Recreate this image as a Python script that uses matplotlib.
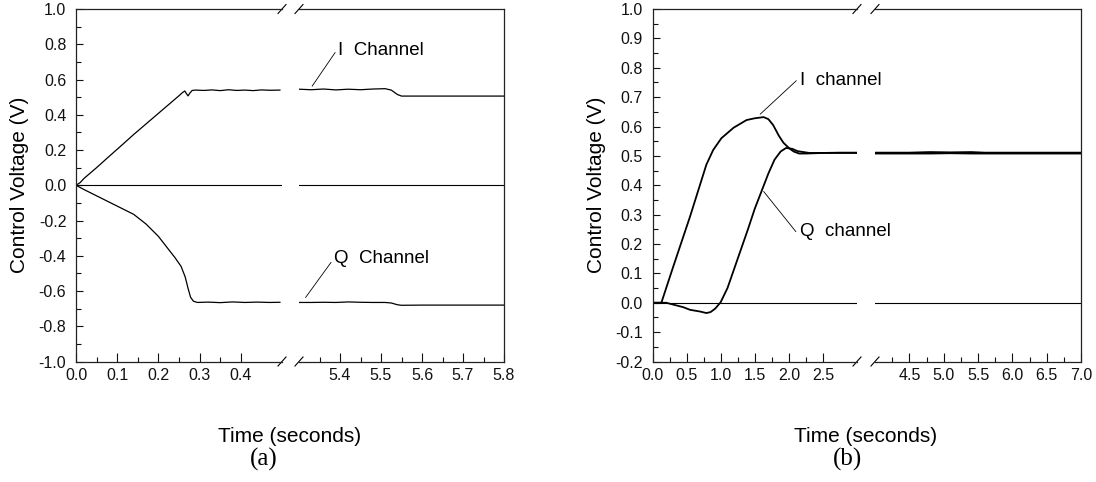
import numpy as np
import matplotlib
matplotlib.use("Agg")
import matplotlib.pyplot as plt

plt.rcParams['font.family'] = ['Liberation Sans', 'DejaVu Sans']

# ---- panel (a) data ----
t_a1 = [0, 0.01, 0.02, 0.05, 0.08, 0.11, 0.14, 0.17, 0.2, 0.23, 0.25, 0.258, 0.264,
        0.268, 0.272, 0.276, 0.282, 0.29, 0.31, 0.33, 0.35, 0.37, 0.39, 0.41,
        0.43, 0.45, 0.47, 0.495]
i_a1 = [0, 0.015, 0.04, 0.1, 0.163, 0.225, 0.288, 0.348, 0.408, 0.468, 0.508, 0.525,
        0.535, 0.52, 0.507, 0.522, 0.538, 0.54, 0.538, 0.541, 0.537, 0.542, 0.538,
        0.54, 0.537, 0.541, 0.539, 0.54]
tq_a1 = [0, 0.02, 0.05, 0.08, 0.11, 0.14, 0.17, 0.2, 0.22, 0.24, 0.255, 0.265,
         0.272, 0.278, 0.285, 0.295, 0.32, 0.35, 0.38, 0.41, 0.44, 0.47, 0.495]
q_a1 = [0, -0.025, -0.06, -0.095, -0.13, -0.165, -0.22, -0.29, -0.35, -0.41,
        -0.46, -0.52, -0.585, -0.635, -0.658, -0.665, -0.663, -0.666, -0.662,
        -0.665, -0.663, -0.665, -0.664]
t_a2 = [5.30, 5.33, 5.36, 5.39, 5.42, 5.45, 5.48, 5.51, 5.525, 5.54, 5.55, 5.6, 5.7, 5.8]
i_a2 = [0.545, 0.542, 0.546, 0.541, 0.545, 0.542, 0.546, 0.548, 0.54, 0.515, 0.506,
        0.506, 0.506, 0.506]
q_a2 = [-0.665, -0.665, -0.664, -0.665, -0.662, -0.664, -0.665, -0.665, -0.668,
        -0.678, -0.681, -0.68, -0.68, -0.68]

# ---- panel (b) data ----
t_b1 = [0, 0.13, 0.3, 0.55, 0.79, 0.89, 1.01, 1.19, 1.38, 1.5, 1.63, 1.7, 1.77,
        1.85, 1.92, 2.0, 2.07, 2.15, 2.26, 2.5, 2.75, 3.0]
i_b1 = [0, 0.0, 0.12, 0.293, 0.47, 0.52, 0.56, 0.596, 0.622, 0.628, 0.632, 0.625,
        0.605, 0.57, 0.545, 0.527, 0.515, 0.508, 0.508, 0.51, 0.511, 0.511]
tq_b1 = [0, 0.2, 0.3, 0.45, 0.55, 0.7, 0.79, 0.85, 0.92, 1.0, 1.1, 1.25, 1.4, 1.5,
         1.6, 1.7, 1.79, 1.88, 1.96, 2.05, 2.13, 2.3, 2.5, 3.0]
q_b1 = [0, 0.0, -0.006, -0.015, -0.024, -0.03, -0.035, -0.032, -0.02, 0.002, 0.05,
        0.15, 0.25, 0.32, 0.38, 0.44, 0.487, 0.515, 0.527, 0.524, 0.516, 0.51,
        0.51, 0.51]
t_b2 = [4.0, 4.5, 4.8, 5.1, 5.4, 5.6, 6.0, 6.5, 7.0]
i_b2 = [0.511, 0.511, 0.513, 0.512, 0.513, 0.511, 0.511, 0.511, 0.511]
q_b2 = [0.508, 0.508, 0.508, 0.509, 0.508, 0.508, 0.508, 0.508, 0.508]

fig = plt.figure(figsize=(10.96, 4.82), dpi=100)

bot, hgt = 0.25, 0.7313
spine_col = '#222222'


def fmt(v):
    return '%.1f' % (round(v, 1) + 0.0)


def style(ax, xlim, ylim, xmaj, xmin, ymaj, ymin, left):
    ax.set_xlim(*xlim)
    ax.set_ylim(*ylim)
    ax.patch.set_visible(False)
    ax.set_xticks(xmaj)
    ax.set_xticks(xmin, minor=True)
    ax.set_xticklabels([fmt(v) for v in xmaj], fontsize=11.5)
    if left:
        ax.set_yticks(ymaj)
        ax.set_yticks(ymin, minor=True)
        ax.set_yticklabels([fmt(v) for v in ymaj], fontsize=11.5)
        ax.spines['right'].set_visible(False)
    else:
        ax.set_yticks([])
        ax.spines['left'].set_visible(False)
    ax.tick_params(which='both', direction='in', top=False, right=False,
                   colors='#111111', width=0.8)
    ax.tick_params(axis='x', which='major', length=6.5, pad=5)
    ax.tick_params(axis='x', which='minor', length=3.5)
    ax.tick_params(axis='y', which='major', length=5, pad=7)
    ax.tick_params(axis='y', which='minor', length=3.5)
    for s in ax.spines.values():
        s.set_color(spine_col)
        s.set_linewidth(0.9)
    ax.axhline(0, color='black', lw=0.8)


def breaks(ax, side):
    # small slashes at the cut of the x axis
    w = ax.get_position().width * fig.get_figwidth() * 100
    h = hgt * fig.get_figheight() * 100
    dx, dy = 4.0 / w, 4.5 / h
    kw = dict(transform=ax.transAxes, color='black', lw=0.8, clip_on=False)
    for y in (0, 1):
        ax.plot([side - dx, side + dx], [y - dy, y + dy], **kw)


# ---- panel (a) ----
ax1 = fig.add_axes([76 / 1096, bot, 206 / 1096, hgt])
ax2 = fig.add_axes([299 / 1096, bot, 205 / 1096, hgt])
ya_maj = np.round(np.arange(-1.0, 1.01, 0.2), 1)
ya_min = np.round(np.arange(-0.9, 1.0, 0.2), 1)
style(ax1, (0, 0.5), (-1, 1), [0, 0.1, 0.2, 0.3, 0.4],
      [0.05, 0.15, 0.25, 0.35], ya_maj, ya_min, True)
style(ax2, (5.3, 5.8), (-1, 1), [5.4, 5.5, 5.6, 5.7, 5.8],
      [5.35, 5.45, 5.55, 5.65, 5.75], ya_maj, ya_min, False)
ax1.plot(t_a1, i_a1, color='black', lw=0.9)
ax1.plot(tq_a1, q_a1, color='black', lw=0.9)
ax2.plot(t_a2, i_a2, color='black', lw=0.9)
ax2.plot(t_a2, q_a2, color='black', lw=0.9)
breaks(ax1, 1)
breaks(ax2, 0)
ax2.annotate('I  Channel', xy=(5.332, 0.562), xytext=(5.395, 0.767),
             fontsize=13.5, va='center', ha='left',
             arrowprops=dict(arrowstyle='-', lw=0.6, color='black',
                             shrinkA=0, shrinkB=0, relpos=(-0.02, 0.45)))
ax2.annotate('Q  Channel', xy=(5.316, -0.637), xytext=(5.385, -0.416),
             fontsize=13.5, va='center', ha='left',
             arrowprops=dict(arrowstyle='-', lw=0.6, color='black',
                             shrinkA=0, shrinkB=0, relpos=(-0.02, 0.35)))

# ---- panel (b) ----
ax3 = fig.add_axes([652.5 / 1096, bot, 204.5 / 1096, hgt])
ax4 = fig.add_axes([875 / 1096, bot, 206 / 1096, hgt])
yb_maj = np.round(np.arange(-0.2, 1.01, 0.1), 1)
yb_min = np.round(np.arange(-0.15, 1.0, 0.1), 2)
style(ax3, (0, 3.0), (-0.2, 1.0), [0, 0.5, 1.0, 1.5, 2.0, 2.5],
      [0.25, 0.75, 1.25, 1.75, 2.25], yb_maj, yb_min, True)
style(ax4, (4.0, 7.0), (-0.2, 1.0), [4.5, 5.0, 5.5, 6.0, 6.5, 7.0],
      [4.25, 4.75, 5.25, 5.75, 6.25, 6.75], yb_maj, yb_min, False)
ax3.plot(t_b1, i_b1, color='black', lw=1.3)
ax3.plot(tq_b1, q_b1, color='black', lw=1.3)
ax4.plot(t_b2, i_b2, color='black', lw=1.3)
ax4.plot(t_b2, q_b2, color='black', lw=1.3)
breaks(ax3, 1)
breaks(ax4, 0)
ax3.annotate('I  channel', xy=(1.58, 0.642), xytext=(2.17, 0.756),
             fontsize=13.5, va='center', ha='left', annotation_clip=False,
             arrowprops=dict(arrowstyle='-', lw=0.6, color='black',
                             shrinkA=0, shrinkB=0, relpos=(-0.05, 0.5)))
ax3.annotate('Q  channel', xy=(1.63, 0.379), xytext=(2.17, 0.242),
             fontsize=13.5, va='center', ha='left', annotation_clip=False,
             arrowprops=dict(arrowstyle='-', lw=0.6, color='black',
                             shrinkA=0, shrinkB=0, relpos=(-0.05, 0.5)))

# ---- labels ----
fig.text(20 / 1096, 1 - 185 / 482, 'Control Voltage (V)', rotation=90,
         ha='center', va='center', fontsize=15)
fig.text(597 / 1096, 1 - 185 / 482, 'Control Voltage (V)', rotation=90,
         ha='center', va='center', fontsize=15)
fig.text(290 / 1096, 1 - 436 / 482, 'Time (seconds)', ha='center', va='center',
         fontsize=15)
fig.text(866 / 1096, 1 - 436 / 482, 'Time (seconds)', ha='center', va='center',
         fontsize=15)
fig.text(264 / 1096, 1 - 459 / 482, '(a)', ha='center', va='center',
         fontsize=18, family='Liberation Serif')
fig.text(847 / 1096, 1 - 459 / 482, '(b)', ha='center', va='center',
         fontsize=18, family='Liberation Serif')

fig.savefig('out.png', dpi=100)
